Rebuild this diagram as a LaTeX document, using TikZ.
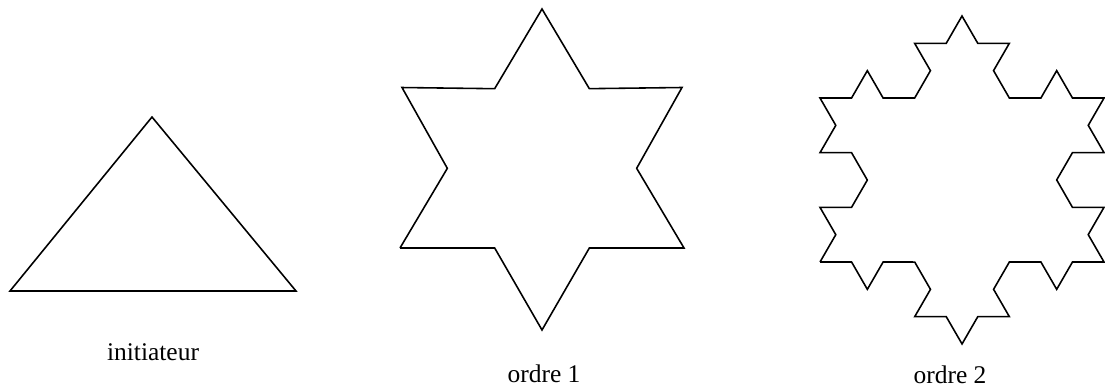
\documentclass[tikz,border=0pt]{standalone}
\usepackage{fontspec}
\setmainfont{Liberation Serif}
\usetikzlibrary{decorations.fractals}
\tikzset{
  courbe/.style={draw=black,line width=0.9pt,line join=miter},
  flocon/.style={courbe,decoration=Koch snowflake},
  legende/.style={font=\fontsize{14.5}{17}\selectfont,inner sep=0pt,anchor=base},
}
\begin{document}
\begin{tikzpicture}[x=0.02cm,y=0.02cm]
  \useasboundingbox (0,0) rectangle (1105,390);
  % initiateur
  \coordinate (t1) at (10,99);
  \coordinate (t2) at (152,273);
  \coordinate (t3) at (296,99);
  \draw[courbe] (t1) -- (t2) -- (t3) -- cycle;
  \node[legende] (init) at (153,30) {initiateur};
  % ordre 1
  \coordinate (e1) at (400,142);
  \coordinate (e2) at (542,381);
  \coordinate (e3) at (684,142);
  \draw[flocon] decorate{(e1) -- (e2) -- (e3) -- cycle};
  \node[legende] (ord1) at (544,8) {ordre 1};
  % ordre 2
  \coordinate (f1) at (820,128);
  \coordinate (f2) at (962,374);
  \coordinate (f3) at (1104,128);
  \draw[flocon] decorate{decorate{(f1) -- (f2) -- (f3) -- cycle}};
  \node[legende] (ord2) at (950,7) {ordre 2};
\end{tikzpicture}
\end{document}
